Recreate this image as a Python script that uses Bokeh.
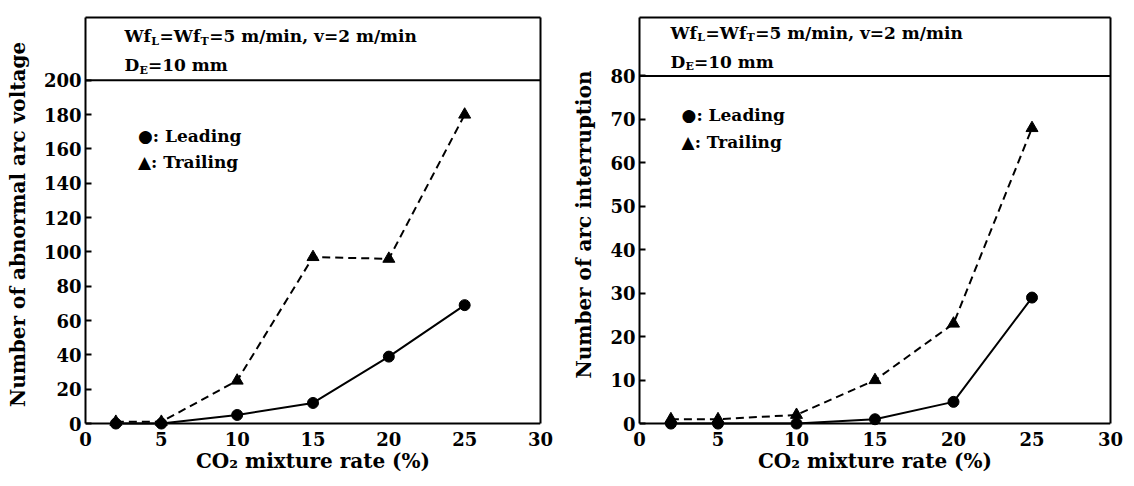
from bokeh.plotting import figure
from bokeh.layouts import row
from bokeh.models import Span, FixedTicker, Range1d, LinearAxis
from bokeh.core.properties import value
from bokeh.embed import file_html
from bokeh.resources import INLINE

# ---- data ----
co2 = [2, 5, 10, 15, 20, 25]
abn_leading = [0, 0, 5, 12, 39, 69]
abn_trailing = [1, 1, 25, 97, 96, 180]
int_leading = [0, 0, 0, 1, 5, 29]
int_trailing = [1, 1, 2, 10, 23, 68]
x_ticks = [0, 5, 10, 15, 20, 25, 30]
abn_ticks = [0, 20, 40, 60, 80, 100, 120, 140, 160, 180, 200]
int_ticks = [0, 10, 20, 30, 40, 50, 60, 70, 80]
x_label = "CO\u2082 mixture rate (%)"
abn_label = "Number of abnormal arc voltage"
int_label = "Number of arc interruption"
legend_texts = ["\u25cf: Leading", "\u25b2: Trailing"]
header1 = [("Wf", 0), ("L", 1), ("=Wf", 0), ("T", 1), ("=5 m/min, v=2 m/min", 0)]
header2 = [("D", 0), ("E", 1), ("=10 mm", 0)]

FONT = "DejaVu Serif"
MAIN_PX = 17
SUB_PX = 11
# approximate DejaVu-Serif-Bold advance widths (per 1000 em)
W = {"W": 1103, "f": 472, "L": 758, "T": 780, "=": 838, "5": 696, " ": 348,
     "m": 1058, "/": 365, "i": 410, "n": 730, ",": 380, "v": 700, "2": 696,
     "D": 888, "E": 760, "1": 696, "0": 696}


def text_width(s, px):
    return sum(W.get(c, 696) for c in s) * px / 1000.0


def draw_runs(p, x, y, runs):
    off = 0.0
    for s, sub in runs:
        px = SUB_PX if sub else MAIN_PX
        p.text([x], [y], text=[s], x_offset=off, y_offset=(5 if sub else 0),
               text_font=value(FONT), text_font_style="bold",
               text_font_size=f"{px}px", text_baseline="middle",
               text_color="black")
        off += text_width(s, px)


def style_axis(ax):
    ax.axis_line_width = 2
    ax.axis_line_color = "black"
    ax.major_tick_in = 6
    ax.major_tick_out = 0
    ax.major_tick_line_width = 2
    ax.major_tick_line_color = "black"
    ax.minor_tick_line_color = None
    ax.major_label_text_font = FONT
    ax.major_label_text_font_style = "bold"
    ax.major_label_text_font_size = "18px"
    ax.major_label_text_color = "black"
    ax.axis_label_text_font = FONT
    ax.axis_label_text_font_style = "bold"
    ax.axis_label_text_font_size = "20px"
    ax.axis_label_text_color = "black"


def make_panel(lead, trail, ticks, ybot, ytop, yline, ylabel, width, height,
               mb_left, mb_right, mb_top, mb_bottom, hx, hy1, hy2, lx, ly1, ly2):
    p = figure(width=width, height=height, output_backend="svg",
               toolbar_location=None, x_range=Range1d(0, 30),
               y_range=Range1d(ybot, ytop),
               min_border_left=mb_left, min_border_right=mb_right,
               min_border_top=mb_top, min_border_bottom=mb_bottom)
    p.grid.visible = False
    p.background_fill_color = "white"
    p.border_fill_color = "white"
    p.outline_line_color = None
    style_axis(p.xaxis[0])
    style_axis(p.yaxis[0])
    p.xaxis.ticker = FixedTicker(ticks=x_ticks)
    p.yaxis.ticker = FixedTicker(ticks=ticks)
    # bottom frame line is drawn at y=0 (Span) so markers at 0 are not clipped
    p.xaxis.axis_line_color = None
    p.xaxis.major_tick_line_color = None
    p.yaxis.bounds = (0, ytop)
    p.xaxis.axis_label = x_label
    p.yaxis.axis_label = ylabel
    p.xaxis.major_label_standoff = 0
    p.xaxis.axis_label_standoff = 0
    p.yaxis.major_label_standoff = 4
    p.yaxis.axis_label_standoff = 11

    right = LinearAxis(ticker=FixedTicker(ticks=[]), bounds=(0, ytop),
                       axis_line_width=2, axis_line_color="black",
                       major_tick_line_color=None, minor_tick_line_color=None)
    top = LinearAxis(ticker=FixedTicker(ticks=[]), axis_line_width=2,
                     axis_line_color="black", major_tick_line_color=None,
                     minor_tick_line_color=None)
    p.add_layout(right, "right")
    p.add_layout(top, "above")

    p.add_layout(Span(location=yline, dimension="width", line_color="black",
                      line_width=2))
    p.add_layout(Span(location=0, dimension="width", line_color="black",
                      line_width=2))

    p.line(co2, trail, line_color="black", line_width=2, line_dash="8 5")
    p.line(co2, lead, line_color="black", line_width=2)
    p.scatter(co2, trail, marker="triangle", size=12, fill_color="black",
              line_color="black")
    p.scatter(co2, lead, marker="circle", size=11, fill_color="black",
              line_color="black")

    draw_runs(p, hx, hy1, header1)
    draw_runs(p, hx, hy2, header2)
    p.text([lx, lx], [ly1, ly2], text=legend_texts, text_font=value(FONT),
           text_font_style="bold", text_font_size=f"{MAIN_PX}px",
           text_baseline="middle", text_color="black")
    return p


p1 = make_panel(abn_leading, abn_trailing, abn_ticks, -4.63, 236.6, 200, abn_label,
                565, 484, 85, 25, 14, 53,
                2.57, 225.6, 208.9, 3.46, 167.8, 152.2)
p2 = make_panel(int_leading, int_trailing, int_ticks, -1.82, 93.45, 80, int_label,
                569, 484, 74, 24, 17, 49,
                1.97, 89.96, 83.26, 2.68, 71.1, 64.7)

layout = row(p1, p2)
open("out.html", "w").write(file_html(layout, INLINE))
